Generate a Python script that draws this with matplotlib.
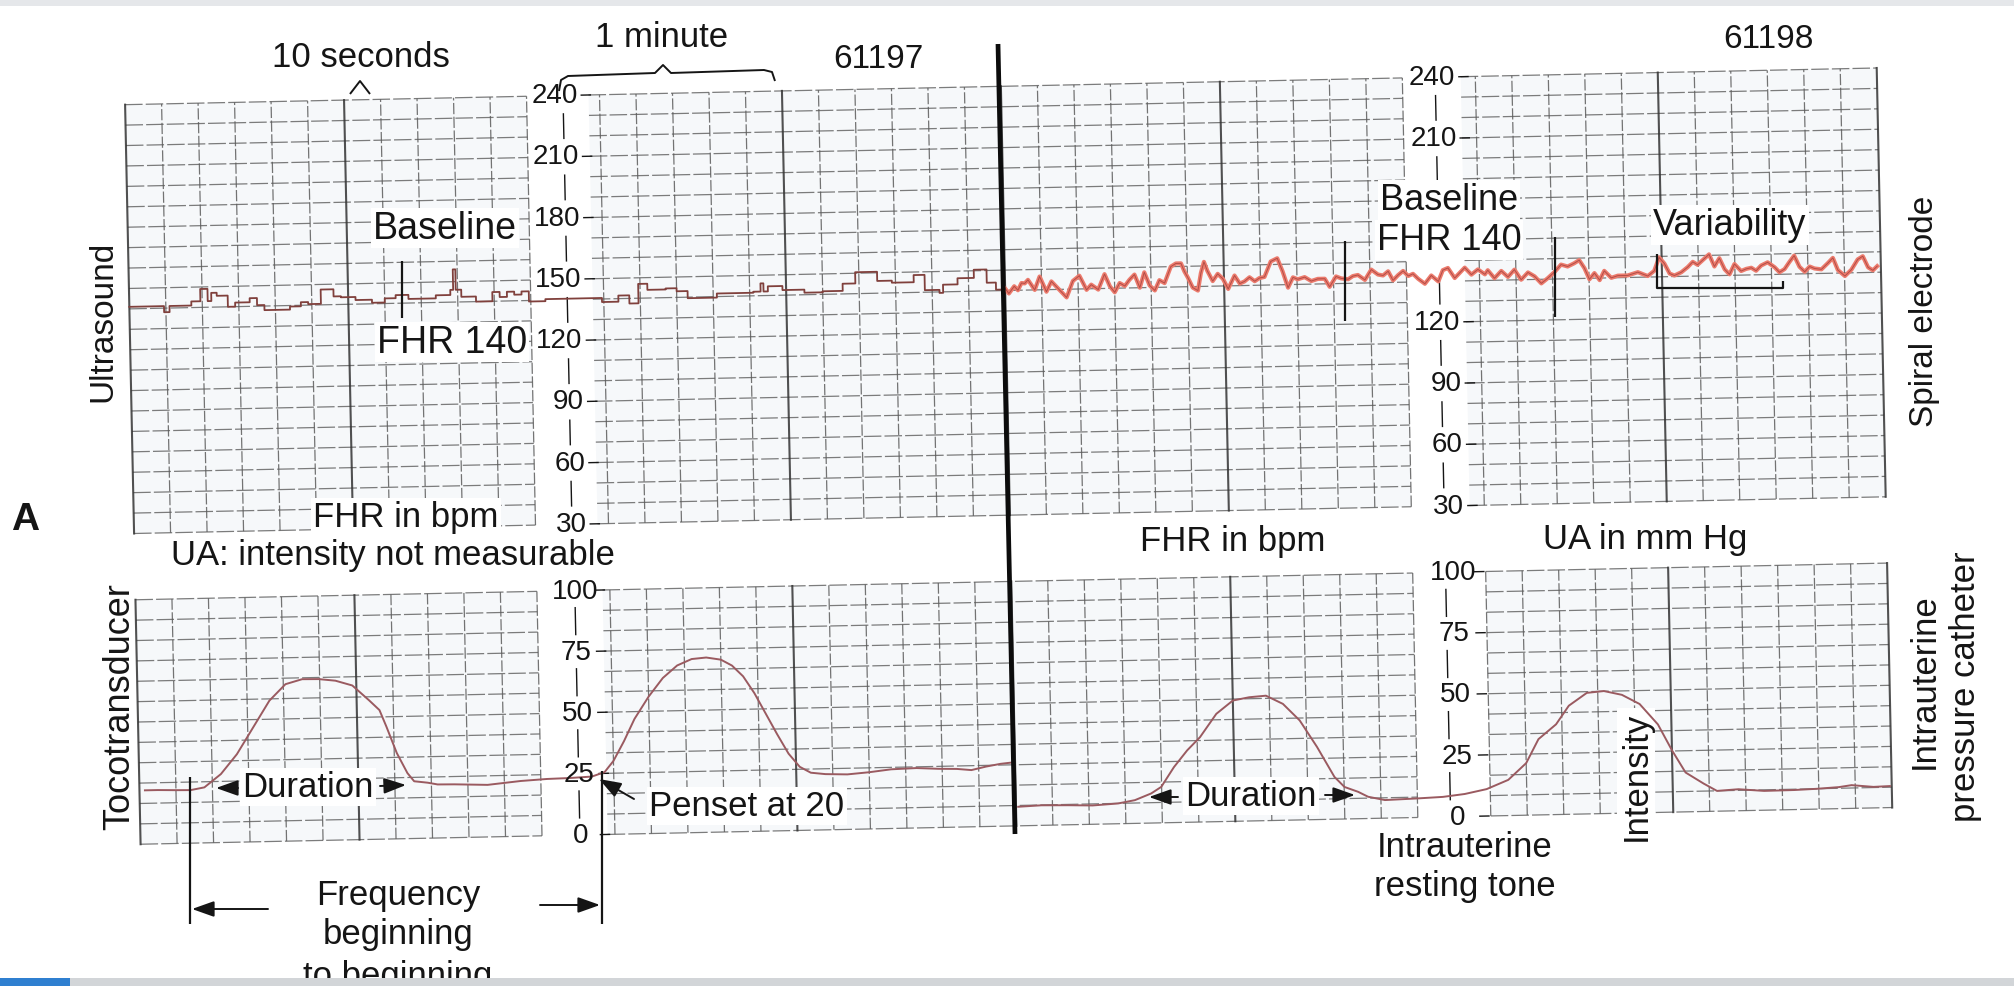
import numpy as np
import matplotlib
matplotlib.use("Agg")
import matplotlib.pyplot as plt
from matplotlib.transforms import Affine2D
from matplotlib.lines import Line2D
from matplotlib.patches import Rectangle, FancyArrowPatch

# ---------------- data (time in s from strip start) ----------------
fhr_us_t = [0, 9.5, 11, 17, 19.5, 21.5, 22.5, 24, 27, 29, 33, 35, 37, 44, 47, 49, 52.5, 56, 58, 62,
            66.5, 70, 73, 76.5, 84, 88, 88.8, 89.5, 91, 95, 99.5, 101.5, 103.5, 105.5, 107.5, 109.5,
            114, 122, 129.5, 134, 137, 139.5, 142, 147, 150, 153, 161, 171, 173, 173.8, 175, 179, 185,
            190, 195.5, 199, 205, 209, 215, 218, 222, 223, 227, 231.5, 235, 237.5, 240]
fhr_us_bpm = [141, 138, 141, 143, 149, 143, 147, 145.5, 140, 142, 144, 140.5, 138, 139.5, 141.5, 140.5,
              147.5, 144, 143.5, 142, 140.5, 142.5, 144, 142, 143.5, 146, 156, 146, 142.5, 140, 144.5,
              142, 144.5, 143, 144.5, 139.5, 140.5, 140.5, 138.5, 141.5, 137.5, 147, 144, 144.5, 143,
              139.5, 141.5, 142, 146, 142, 144.5, 142.5, 141, 141.5, 145, 150.5, 146, 145, 148.5, 141,
              139.5, 143.5, 146.5, 150.5, 144, 140.5, 140.5]

fhr_se_t = [240, 241, 242.5, 243.5, 244.5, 245.4, 246.3, 248.1, 249.5, 251.3,
            252.7, 254.5, 256.8, 258.6, 260.4, 262.3, 263.6, 265.5, 267.3, 268.7,
            270, 271.4, 272.8, 274.1, 275.5, 276.9, 278.2, 279.6, 281, 282.3,
            283.7, 285.5, 286.9, 288.3, 289.2, 290.1, 291.4, 292.8, 293.7, 294.6,
            295.5, 296.9, 298.3, 299.7, 301.1, 302.9, 304.3, 305.6, 307, 308.4,
            309.7, 311.1, 312.9, 314.7, 316.1, 317.5, 318.9, 320.2, 322.1, 323.9,
            325.7, 327.6, 328.9, 330.7, 332.1, 334, 335.3, 336.7, 338.6, 340.4,
            342.2, 343.6, 345, 346.3, 347.7, 349.1, 350.5, 351.8, 353.2, 355,
            356.8, 358.7, 360, 361.4, 363.2, 364.6, 366, 367.8, 369.6, 371.5,
            372.3, 374.1, 376, 377.8, 379.6, 381.4, 383.3, 385.1, 386.9, 388.7,
            390.6, 392.4, 394.2, 396, 397.4, 398.8, 400.1, 401.5, 402.9, 404.2,
            406.1, 407.9, 410.6, 413.4, 416.1, 417.9, 419.3, 420.7, 422.1, 423.4,
            425.3, 427.1, 428.5, 429.8, 431.7, 433, 434.4, 435.8, 437.2, 438.5,
            439.9, 441.7, 443.1, 444.5, 445.8, 447.2, 449, 450.9, 452.2, 453.6,
            455, 456.3, 457.7, 459.1, 460.5, 461.8, 463.7, 465.5, 466.9, 468.2,
            470.1, 471.9, 473.7, 475.1, 476.5, 477.8, 479]
fhr_se_bpm = [141, 138.5, 142, 140, 143.5, 143.3, 145, 140, 146.5, 139,
              144, 140.5, 136, 144, 146.5, 139.5, 142, 139.5, 147, 141,
              138, 142.5, 141, 144, 146.5, 140, 147.5, 141, 138.5, 143.5,
              142, 150, 151.5, 151.5, 147.5, 144.5, 139.5, 138, 146.5, 152,
              147.5, 142.5, 146, 143.5, 138.5, 145, 141, 142, 144, 142,
              143.5, 144, 151.5, 153, 146.5, 138.5, 143.5, 142.5, 143.5, 141.5,
              142.5, 142.5, 138.5, 143.5, 142.5, 142, 143.5, 144, 141.5, 146.5,
              144, 143.5, 145.5, 141, 143.5, 145.5, 143, 144, 141.5, 139,
              143, 140, 145.5, 146.5, 141.5, 144, 146.5, 143, 145.5, 143,
              145, 141, 144.5, 141.5, 145, 140, 143.5, 141.5, 138, 140.5,
              143.5, 147, 146, 147.5, 149, 145, 139.5, 142.5, 139, 143.5,
              140, 141, 141, 142.5, 140.5, 143, 149.5, 146.5, 141.5, 140.5,
              142, 144.5, 147, 145.5, 148.5, 150.5, 144.5, 148.5, 143, 140.5,
              145.5, 142, 143, 143.5, 142, 144.5, 146, 143.5, 141, 142.5,
              146, 149, 143.5, 141, 143.5, 142.5, 142, 145, 147.5, 141.5,
              138.5, 141.5, 146.5, 148, 142.5, 141, 143]

ua_toco_t = [1.5, 5, 10, 14, 17.8, 22.4, 26.9, 31.5, 36.1, 40.6, 45.2, 49.7, 54.3, 58.9, 63.4, 66.2,
             68, 70.7, 73.5, 75.3, 79, 81.7, 86.3, 95.4, 104.5, 111.7, 118, 124, 127.5, 130, 133, 136,
             140, 144, 148, 152, 156, 160, 163, 166, 169, 172, 175, 178, 181, 184, 188, 194, 200, 206,
             213, 219, 224, 228, 232, 236, 239.5]
ua_toco_mmhg = [22, 22, 21.8, 21.7, 22.7, 28.0, 36.0, 46.8, 57.6, 64.2, 66.1, 66.0, 65.2, 63.1, 56.9,
                52.8, 46.0, 35.1, 26.8, 23.4, 22.7, 21.9, 21.8, 21.3, 22.6, 23.2, 23.4, 23.8, 25.5, 30,
                38, 47, 56, 63.5, 68.5, 71, 71.5, 70.5, 68, 63.5, 56.5, 48, 39.5, 31.5, 26, 23.5, 22.8,
                22.5, 23.2, 24.2, 24.5, 24, 23.8, 23.2, 24.5, 25.5, 26]

ua_iupc_t = [240.6, 247, 254.3, 261, 268, 272.6, 277.1, 279.9, 283.5, 287.2, 290.8, 295.4, 300, 304.5,
             309.1, 313.7, 318.2, 322.8, 327.4, 330.1, 333.8, 336.5, 341.1, 350.2, 357, 363, 369,
             375, 380, 383.5, 388.4, 392, 397, 401.7, 406.6, 411.4, 416.3, 420, 423.6, 428.5,
             432.1, 438, 445, 453.3, 459.4, 465.5, 469, 475, 479.5]
ua_iupc_mmhg = [7.8, 8.2, 8.0, 7.7, 8.3, 9.5, 12.1, 14.7, 22.7, 29.4, 34.7, 44.1, 49.4, 50.6, 51.1,
                47.6, 40.7, 29.7, 17.3, 13.1, 11.0, 8.9, 7.4, 7.8, 8.2, 9.2, 11.0, 14.6, 21.3, 31.0,
                36.9, 44.4, 49.5, 50.1, 48.4, 44.5, 36.0, 25.3, 16.1, 11.4, 8.3, 8.8, 7.9, 8.0, 8.3,
                8.8, 9.5, 8.6, 8.8]

fhr_labels_left = [240, 210, 180, 150, 120, 90, 60, 30]
fhr_labels_right = [240, 210, 120, 90, 60, 30]
ua_labels = [100, 75, 50, 25, 0]

# ---------------- figure / geometry ----------------
W, H = 2015, 987
plt.rcParams['font.family'] = ['Liberation Sans', 'DejaVu Sans']
fig = plt.figure(figsize=(W / 100, H / 100), dpi=100)
fig.patch.set_facecolor('white')

X0, X1 = 133.4, 1885.4
F_TOP, F_BOT = 87.3, 516.2
U_TOP, U_BOT = 582.5, 827.0
ax_f = fig.add_axes([X0 / W, 1 - F_BOT / H, (X1 - X0) / W, (F_BOT - F_TOP) / H])
ax_u = fig.add_axes([X0 / W, 1 - U_BOT / H, (X1 - X0) / W, (U_BOT - U_TOP) / H])
for ax in (ax_f, ax_u):
    ax.set_xlim(0, 480)
    ax.set_axis_off()
ax_f.set_ylim(30, 240)
ax_u.set_ylim(0, 100)

ROT = Affine2D().rotate_deg_around(1007, H - 493, 1.2)   # scan tilt
Tf = ax_f.transData + ROT
Tu = ax_u.transData + ROT
IMG = Affine2D().scale(1, -1).translate(0, H)            # image pixel coords

PAPER = '#f6f8fa'
GRID = '#5c5c5c'
GRID_D = '#333333'
INK = '#151515'


def draw_grid(ax, T, segs, lo, hi, step):
    ys = np.arange(lo, hi + step / 2, step)
    for a, b in segs:
        ax.add_patch(Rectangle((a, lo), b - a, hi - lo, transform=T, fc=PAPER, ec='none',
                               zorder=0, clip_on=False))
        for y in ys:
            ax.plot([a, b], [y, y], color=GRID, lw=0.9, ls=(0, (14, 2.5)), alpha=0.8,
                    transform=T, clip_on=False, zorder=1)
        for t in np.arange(np.ceil(a / 10) * 10, b + 1e-6, 10):
            major = abs(t % 60) < 1e-6
            ax.plot([t, t], [lo, hi], color=GRID_D if major else GRID,
                    lw=1.5 if major else 0.9, ls='-' if major else (0, (9, 2)),
                    alpha=0.85, transform=T, clip_on=False, zorder=1)


draw_grid(ax_f, Tf, [(0, 110), (127, 350), (366, 480)], 30, 240, 10)
draw_grid(ax_u, Tu, [(0, 110), (128, 350), (370, 480)], 0, 100, 100 / 12)

# label columns
for labels, xr, xbar, xt in ((fhr_labels_left, 124, 120, (125, 127.5)),
                             (fhr_labels_right, 364.5, 359, (365.5, 368))):
    for v in labels:
        ax_f.text(xr, v, str(v), ha='right', va='center', fontsize=20, color=INK,
                  transform=Tf, clip_on=False, zorder=4)
        ax_f.plot(list(xt), [v, v], color=INK, lw=1.0, transform=Tf, clip_on=False)
    for v in range(30, 240, 30):
        ax_f.plot([xbar, xbar], [v + 9, v + 21], color=INK, lw=1.0, transform=Tf, clip_on=False)
for xc, xbar, xt in ((120.5, 120.4, (126, 128.5)), (361, 359, (367, 369.5))):
    for v in ua_labels:
        ax_u.text(xc, v, str(v), ha='center', va='center', fontsize=20, color=INK,
                  transform=Tu, clip_on=False, zorder=4)
        ax_u.plot(list(xt), [v, v], color=INK, lw=1.0, transform=Tu, clip_on=False)
    for v in range(0, 100, 25):
        ax_u.plot([xbar, xbar], [v + 7, v + 18], color=INK, lw=1.0, transform=Tu, clip_on=False)

# traces
ax_f.plot(fhr_us_t, fhr_us_bpm, drawstyle='steps-post', color='#80403c', lw=1.3,
          transform=Tf, clip_on=False, zorder=3)
ax_f.plot(fhr_se_t, fhr_se_bpm, color='#ec7b6d', lw=3.0, transform=Tf, clip_on=False, zorder=3,
          solid_joinstyle='round')
ax_f.plot(fhr_se_t, fhr_se_bpm, color='#b24d47', lw=0.7, transform=Tf, clip_on=False, zorder=3)
ax_u.plot(ua_toco_t, ua_toco_mmhg, color='#9a5a60', lw=1.4, transform=Tu, clip_on=False, zorder=3)
ax_u.plot(ua_iupc_t, ua_iupc_mmhg, color='#9a5a60', lw=1.4, transform=Tu, clip_on=False, zorder=3)

# ---------------- annotations (image pixel coords) ----------------
def line(xs, ys, lw=1.6, color=INK):
    fig.add_artist(Line2D(xs, ys, transform=IMG, color=color, lw=lw, solid_capstyle='butt'))


def arrow(p0, p1, ms=15):
    fig.add_artist(FancyArrowPatch(p0, p1, transform=IMG,
                                   arrowstyle='-|>,head_length=0.9,head_width=0.32',
                                   mutation_scale=ms, color=INK, lw=1.4, shrinkA=0, shrinkB=0))


def label(x, y, s, size=25, rot=0, ha='center', weight='normal'):
    fig.text(x, y, s, transform=IMG, ha=ha, va='center', fontsize=size, rotation=rot,
             color=INK, fontweight=weight, zorder=5)


def boxed(ax, x, y, s, size=25, rot=0):
    # white paper behind the text hides the grid but stays under the traces
    ax.text(x, y, s, transform=IMG, ha='center', va='center', fontsize=size, rotation=rot,
            color=INK, zorder=2.5, clip_on=False, bbox=dict(fc='white', ec='none', pad=1.5))


# heavy divider line
line([998, 1015], [45, 835], lw=3.4, color='#0c0c0c')
# baseline markers
line([402, 402], [262, 319], lw=1.6)
line([1345, 1345], [242, 322], lw=1.6)
line([1555, 1555], [238, 318], lw=1.6)
# variability bracket
line([1657, 1657, 1783, 1783], [255, 289, 289, 282], lw=1.6)
# 10 seconds caret
line([350, 360, 370], [95, 82, 95], lw=1.4)
# 1 minute brace
line([559, 561, 568, 655, 663, 671, 764, 772, 775], [92, 81, 77, 74, 66, 74, 71, 73, 82], lw=1.4)
# frequency bracket
line([190, 190], [778, 925], lw=1.6)
line([602, 602], [772, 925], lw=1.6)
arrow((268, 910), (192, 910))
arrow((540, 906), (600, 906))
# duration arrows
arrow((238, 789), (216, 789))
arrow((380, 787), (406, 786))
arrow((1178, 798), (1149, 798))
arrow((1325, 796), (1355, 796))
# penset arrow
arrow((634, 800), (599, 780))

label(361, 58, '10 seconds', 25)
label(662, 38, '1 minute', 25)
label(878, 60, '61197', 24)
label(1768, 40, '61198', 24)
boxed(ax_f, 445, 229, 'Baseline', 27)
boxed(ax_f, 452, 343, 'FHR 140', 27)
boxed(ax_f, 1449, 201, 'Baseline', 26)
boxed(ax_f, 1449, 241, 'FHR 140', 26)
boxed(ax_f, 1730, 226, 'Variability', 26)
label(103, 321, 'Ultrasound', 24, rot=90)
label(1924, 311, 'Spiral electrode', 24, rot=90)
label(25, 520, 'A', 28, weight='bold')
boxed(ax_f, 406, 518, 'FHR in bpm', 25)
label(171, 556, 'UA: intensity not measurable', 25, ha='left')
label(1233, 542, 'FHR in bpm', 25)
label(1645, 540, 'UA in mm Hg', 25)
label(120, 707, 'Tocotransducer', 26, rot=90)
label(1924, 681, 'Intrauterine', 25, rot=90)
label(1966, 687, 'pressure catheter', 25, rot=90)
boxed(ax_u, 1636, 776, 'Intensity', 25, rot=90)
label(1465, 848, 'Intrauterine', 25)
label(1465, 887, 'resting tone', 25)
boxed(ax_u, 308, 788, 'Duration', 25)
boxed(ax_u, 1251, 797, 'Duration', 25)
boxed(ax_u, 747, 807, 'Penset at 20', 25)
label(398, 896, 'Frequency', 25)
label(398, 935, 'beginning', 25)
label(398, 977, 'to beginning', 25)

# scan borders
fig.add_artist(Rectangle((0, 0), W, 7, transform=IMG, fc='#e5e7ea', ec='none', zorder=10))
fig.add_artist(Rectangle((0, 979), W, 8, transform=IMG, fc='#d2d5d8', ec='none', zorder=10))
fig.add_artist(Rectangle((0, 979), 70, 8, transform=IMG, fc='#2f7fd0', ec='none', zorder=11))

fig.savefig('out.png', dpi=100, facecolor='white')
